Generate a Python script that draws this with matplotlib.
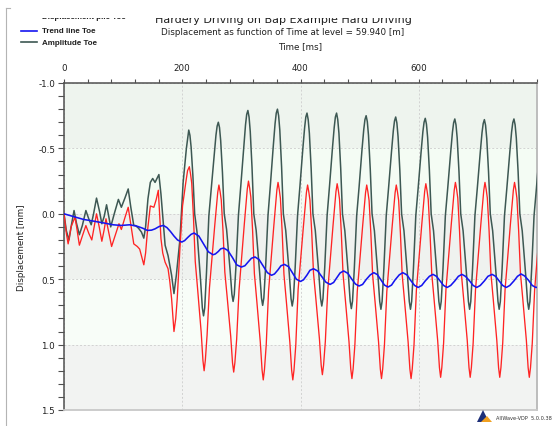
import numpy as np
import matplotlib
matplotlib.use("Agg")
import matplotlib.pyplot as plt
from matplotlib.lines import Line2D
from matplotlib.patches import Rectangle, Polygon

# ---------------- data ----------------
# Amplitude Toe, start-up part (time ms, displacement mm)
t_amp_start = [0, 4, 8.4, 12, 17, 21, 26, 31, 37, 42, 46, 50, 55, 60, 64, 68, 72, 76, 79, 85,
               92, 97, 103, 108.6, 113, 118, 121, 126, 131, 135, 138, 142, 146, 150, 154,
               160.5, 164, 167, 171, 176, 182, 186, 190, 196, 201.5, 207]
amp_start = [0.0, 0.13, 0.20, 0.10, -0.025, 0.07, 0.16, 0.09, -0.025, 0.04, 0.084, 0.0, -0.12,
             -0.02, 0.076, 0.02, -0.069, 0.03, 0.10, 0.0,
             -0.11, -0.05, -0.12, -0.19, -0.05, 0.089, 0.09, 0.11, 0.14, 0.186, 0.10, -0.115,
             -0.24, -0.27, -0.24, -0.30,
             -0.15, 0.013, 0.24, 0.32, 0.47, 0.61, 0.47, 0.20, -0.24, -0.50]
# Amplitude Toe, blow cycles: sample offsets (ms) after each read peak time
amp_cycle_start = [211, 261, 311, 361, 411, 461, 511, 561, 611, 661, 711, 761]
amp_offsets = [0, 2, 4, 7, 10, 14, 20, 23, 25, 27, 30, 34, 38, 43, 46, 48]
amp_cycles = [
    [-0.64, -0.60, -0.51, -0.29, 0.0, 0.14, 0.51, 0.72, 0.78, 0.72, 0.45, 0.016, -0.19, -0.455, -0.60, -0.67],
    [-0.70, -0.66, -0.56, -0.315, 0.0, 0.12, 0.435, 0.616, 0.67, 0.616, 0.39, 0.013, -0.213, -0.51, -0.68, -0.76],
    [-0.79, -0.74, -0.63, -0.355, 0.0, 0.126, 0.455, 0.644, 0.70, 0.644, 0.406, 0.014, -0.216, -0.52, -0.69, -0.77],
    [-0.80, -0.75, -0.64, -0.36, 0.0, 0.127, 0.458, 0.649, 0.705, 0.649, 0.409, 0.014, -0.208, -0.50, -0.66, -0.74],
    [-0.77, -0.72, -0.616, -0.347, 0.0, 0.127, 0.458, 0.649, 0.705, 0.649, 0.409, 0.014, -0.208, -0.50, -0.66, -0.74],
    [-0.77, -0.72, -0.616, -0.347, 0.0, 0.13, 0.47, 0.667, 0.725, 0.667, 0.42, 0.015, -0.20, -0.49, -0.645, -0.72],
    [-0.75, -0.705, -0.60, -0.34, 0.0, 0.13, 0.475, 0.67, 0.73, 0.67, 0.42, 0.015, -0.20, -0.48, -0.636, -0.71],
    [-0.74, -0.695, -0.59, -0.333, 0.0, 0.13, 0.475, 0.67, 0.73, 0.67, 0.42, 0.015, -0.197, -0.475, -0.628, -0.70],
    [-0.73, -0.686, -0.584, -0.33, 0.0, 0.13, 0.475, 0.67, 0.73, 0.67, 0.42, 0.015, -0.196, -0.47, -0.624, -0.696],
    [-0.725, -0.68, -0.58, -0.326, 0.0, 0.13, 0.475, 0.67, 0.73, 0.67, 0.42, 0.015, -0.194, -0.468, -0.62, -0.69],
    [-0.72, -0.677, -0.576, -0.324, 0.0, 0.13, 0.475, 0.67, 0.73, 0.67, 0.42, 0.015, -0.196, -0.47, -0.624, -0.696],
    [-0.725, -0.68, -0.58, -0.326, 0.0, 0.13, 0.475, 0.67, 0.73, 0.67, 0.42, 0.015, -0.194, -0.468, -0.62, -0.69],
]

# Displacement pile Toe, start-up part
t_disp_start = [0, 4, 7, 12, 18.6, 22, 26, 31, 37, 42, 47, 51, 55, 60, 64, 68, 71, 76, 80.5, 87,
                93, 97, 103, 108.6, 113, 118, 124, 128, 132, 135, 138, 141, 146, 152, 156, 159.5,
                164, 167, 171, 176, 179, 182, 186, 189, 191.5, 196, 200.5, 206, 209]
disp_start = [0.0, 0.15, 0.23, 0.10, 0.025, 0.12, 0.24, 0.17, 0.09, 0.15, 0.20, 0.10, 0.0, 0.11,
              0.21, 0.12, 0.038, 0.15, 0.25, 0.16,
              0.076, 0.12, 0.03, -0.05, 0.08, 0.23, 0.25, 0.27, 0.34, 0.39, 0.30, 0.14, -0.06,
              -0.05, -0.11, -0.18,
              0.19, 0.30, 0.37, 0.42, 0.52, 0.65, 0.90, 0.80, 0.65, 0.27, -0.06, -0.24, -0.33]
disp_cycle_start = [212, 262, 312, 362, 412, 462, 512, 562, 612, 662, 712, 762]
disp_offsets = [0, 2, 4, 7, 10, 14, 20, 23, 25, 27, 30, 34, 38, 43, 46, 48]
disp_cycles = [
    [-0.36, -0.305, -0.235, 0.03, 0.365, 0.576, 0.904, 1.122, 1.20, 1.122, 0.927, 0.567, 0.352, 0.087, -0.063, -0.163],
    [-0.22, -0.17, -0.105, 0.137, 0.445, 0.638, 0.938, 1.139, 1.21, 1.139, 0.96, 0.586, 0.358, 0.077, -0.083, -0.189],
    [-0.25, -0.197, -0.128, 0.13, 0.457, 0.662, 0.981, 1.194, 1.27, 1.194, 1.004, 0.59, 0.364, 0.085, -0.074, -0.18],
    [-0.24, -0.187, -0.119, 0.138, 0.462, 0.666, 0.983, 1.195, 1.27, 1.195, 1.006, 0.578, 0.36, 0.092, -0.06, -0.162],
    [-0.22, -0.169, -0.104, 0.143, 0.454, 0.65, 0.955, 1.158, 1.23, 1.158, 0.976, 0.59, 0.366, 0.09, -0.066, -0.17],
    [-0.23, -0.178, -0.111, 0.143, 0.463, 0.664, 0.977, 1.186, 1.26, 1.186, 1.0, 0.594, 0.372, 0.098, -0.057, -0.161],
    [-0.22, -0.168, -0.102, 0.15, 0.468, 0.668, 0.979, 1.186, 1.26, 1.186, 1.001, 0.594, 0.372, 0.098, -0.057, -0.161],
    [-0.22, -0.168, -0.102, 0.15, 0.468, 0.668, 0.979, 1.186, 1.26, 1.186, 1.001, 0.584, 0.362, 0.088, -0.067, -0.171],
    [-0.23, -0.178, -0.112, 0.14, 0.458, 0.658, 0.969, 1.176, 1.25, 1.176, 0.991, 0.58, 0.356, 0.08, -0.076, -0.18],
    [-0.24, -0.188, -0.121, 0.133, 0.453, 0.654, 0.967, 1.176, 1.25, 1.176, 0.989, 0.58, 0.356, 0.08, -0.076, -0.18],
    [-0.24, -0.188, -0.121, 0.133, 0.453, 0.654, 0.967, 1.176, 1.25, 1.176, 0.989, 0.58, 0.356, 0.08, -0.076, -0.18],
    [-0.24, -0.188, -0.121, 0.133, 0.453, 0.654, 0.967, 1.176, 1.25, 1.176, 0.989, 0.58, 0.356, 0.08, -0.076, -0.18],
]

# Trend line Toe
t_trend = [0, 19, 33, 50, 66, 83, 97, 111, 123, 133, 141, 148, 154, 161, 168, 174, 180, 186,
           192, 199, 204, 209.5, 215, 220, 228, 236, 244, 252, 256, 261, 265, 270, 277, 285,
           292, 300, 306, 311.5, 317, 323, 330, 337, 344, 351, 356, 362, 367, 373, 380, 386.5,
           393, 400, 405, 411, 416, 422, 429, 436, 443, 450, 456, 461.5, 467, 473, 480, 486,
           493, 499, 505, 511, 518, 524, 530, 536, 542, 548, 554, 560, 567, 573, 580, 586,
           593, 599, 605, 611, 618, 624, 630, 636, 642, 648, 654, 661, 667, 673, 679, 686,
           692, 698, 704, 711, 717, 724, 730, 736, 742, 748, 754, 761, 767, 773, 779, 786,
           792, 798, 800]
trend = [0.0, 0.025, 0.043, 0.056, 0.069, 0.084, 0.089, 0.084, 0.094, 0.11, 0.127, 0.125,
         0.115, 0.097, 0.089, 0.105, 0.135, 0.17, 0.2, 0.216, 0.205, 0.18, 0.157, 0.147, 0.17,
         0.23, 0.29, 0.313, 0.307, 0.288, 0.268, 0.262, 0.28, 0.335, 0.39, 0.407, 0.397,
         0.368, 0.34, 0.33, 0.35, 0.40, 0.45, 0.47, 0.46, 0.428, 0.397, 0.387, 0.405, 0.452,
         0.5, 0.517, 0.505, 0.468, 0.432, 0.42, 0.437, 0.48, 0.523, 0.54, 0.525, 0.488, 0.452,
         0.437, 0.455, 0.495, 0.537, 0.552, 0.54, 0.503, 0.467, 0.45, 0.465, 0.505, 0.545,
         0.56, 0.545, 0.505, 0.467, 0.45, 0.467, 0.507, 0.548, 0.563, 0.548, 0.513, 0.478,
         0.463, 0.478, 0.513, 0.548, 0.563, 0.548, 0.513, 0.478, 0.463, 0.478, 0.513, 0.548,
         0.563, 0.548, 0.513, 0.478, 0.463, 0.478, 0.513, 0.548, 0.563, 0.548, 0.513, 0.478,
         0.46, 0.475, 0.51, 0.548, 0.563, 0.562]

x_ticks = [0, 200, 400, 600]
y_ticks = [-1.0, -0.5, 0.0, 0.5, 1.0, 1.5]
y_ticklabels = ["-1.0", "-0.5", "0.0", "0.5", "1.0", "1.5"]
series_names = ["Displacement pile Toe", "Trend line Toe", "Amplitude Toe"]
title_1 = "Hardery Driving on Bap Example Hard Driving"
title_2 = "Displacement as function of Time at level = 59.940 [m]"
x_label = "Time [ms]"
y_label = "Displacement [mm]"

# assemble the cycle samples into plain series
t_amp = list(t_amp_start)
amp = list(amp_start)
for s, vals in zip(amp_cycle_start, amp_cycles):
    t_amp += [s + o for o in amp_offsets]
    amp += vals
t_disp = list(t_disp_start)
disp = list(disp_start)
for s, vals in zip(disp_cycle_start, disp_cycles):
    t_disp += [s + o for o in disp_offsets]
    disp += vals

# ---------------- figure ----------------
W, H = 555, 427
fig = plt.figure(figsize=(W / 100, H / 100), dpi=100)
fig.patch.set_facecolor("white")


def fx(x):
    return x / W


def fy(y):
    return 1 - y / H


ax = fig.add_axes([fx(64), fy(411), (537 - 64) / W, (411 - 84) / H])
ax.set_xlim(0, 800)
ax.set_ylim(1.5, -1.0)

bands = [(-1.0, -0.5, "#eef4ee"), (-0.5, 0.0, "#f4fcf4"), (0.0, 0.5, "#eff2ef"),
         (0.5, 1.0, "#f8fdf8"), (1.0, 1.5, "#f2f3f2")]
for lo, hi, c in bands:
    ax.axhspan(lo, hi, color=c, zorder=0, lw=0)

ax.plot(t_amp, amp, color="#3d5853", lw=1.1, zorder=3)
ax.plot(t_disp, disp, color="#ff2424", lw=0.95, zorder=4)
ax.plot(t_trend, trend, color="#1515f0", lw=1.15, zorder=5)

ax.xaxis.tick_top()
ax.set_xticks(x_ticks)
ax.set_xticks(np.arange(0, 801, 40), minor=True)
ax.set_yticks(y_ticks)
ax.set_yticklabels(y_ticklabels)
ax.set_yticks(np.arange(-1.0, 1.51, 0.1), minor=True)
ax.tick_params(axis="x", which="both", top=True, bottom=False, direction="out",
               length=3.0, width=0.8, color="#505050", labelsize=6.3, pad=5.0,
               labelcolor="#202020")
ax.tick_params(axis="y", which="both", left=True, right=False, direction="out",
               length=4.3, width=0.8, color="#505050", labelsize=6.3, pad=2.0,
               labelcolor="#202020")
for lab in ax.get_xticklabels() + ax.get_yticklabels():
    lab.set_family("DejaVu Sans")

ax.grid(True, which="major", ls=(0, (2, 2)), color="#d2d2d2", lw=0.7, zorder=1)
ax.set_axisbelow(True)

ax.spines["top"].set_color("#505050")
ax.spines["top"].set_linewidth(1.1)
ax.spines["left"].set_color("#505050")
ax.spines["left"].set_linewidth(1.1)
ax.spines["right"].set_color("#b8b8b8")
ax.spines["right"].set_linewidth(1.3)
ax.spines["bottom"].set_color("#c8c8c8")
ax.spines["bottom"].set_linewidth(1.3)

# axis labels
fig.text(fx(300), fy(47), x_label, ha="center", va="center", fontsize=6.3,
         family="DejaVu Sans", color="#202020")
fig.text(fx(22), fy(248), y_label, ha="center", va="center", rotation=90,
         fontsize=6.3, family="DejaVu Sans", color="#202020")

# titles (first line is scrolled out of the panel in the original)
fig.text(fx(283), fy(23), title_1, ha="center", va="baseline", fontsize=8,
         family="DejaVu Sans", color="#202020")
fig.text(fx(283), fy(35), title_2, ha="center", va="baseline", fontsize=6.3,
         family="DejaVu Sans", color="#202020")

# legend (hand placed like the original panel)
leg_colors = ["#ff2424", "#1515f0", "#3d5853"]
leg_rows = [17.5, 31.7, 43.3]
for name, c, yy in zip(series_names, leg_colors, leg_rows):
    fig.add_artist(Line2D([fx(21), fx(37)], [fy(yy), fy(yy)], color=c, lw=1.2,
                          transform=fig.transFigure))
    fig.text(fx(41.5), fy(yy), name, ha="left", va="center", fontsize=5.8,
             family="Liberation Sans", weight="bold", color="#202020")

# panel clipped at the top
fig.add_artist(Rectangle((0, fy(18.5)), 1, 18.5 / H, transform=fig.transFigure,
                         facecolor="white", edgecolor="none", zorder=20))
fig.add_artist(Line2D([fx(5.5), fx(5.5)], [fy(9), 0], color="#b4b4b4", lw=0.8,
                      transform=fig.transFigure, zorder=21))
fig.add_artist(Line2D([fx(5.5), fx(10)], [fy(9), fy(9)], color="#b4b4b4", lw=0.8,
                      transform=fig.transFigure, zorder=21))

# software logo + mark
fig.add_artist(Polygon([[fx(477), fy(423)], [fx(483), fy(411)], [fx(489), fy(423)]],
                       closed=True, facecolor="#1d2f78", edgecolor="none",
                       transform=fig.transFigure))
fig.add_artist(Polygon([[fx(481), fy(423)], [fx(487), fy(417)], [fx(492), fy(423)]],
                       closed=True, facecolor="#f0a020", edgecolor="none",
                       transform=fig.transFigure))
fig.text(fx(496), fy(419), "AllWave-VDP  5.0.0.38", ha="left", va="center",
         fontsize=3.6, family="DejaVu Sans", color="#303030")

fig.savefig("out.png", dpi=100, facecolor="white")
